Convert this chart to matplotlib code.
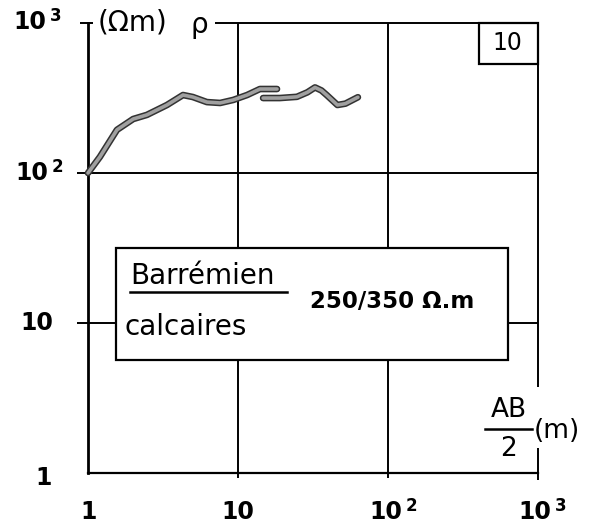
import matplotlib.pyplot as plt
from matplotlib.patches import Rectangle

# sondage electrique : resistivite apparente en fonction de AB/2
ab2_a = [1.0, 1.2, 1.56, 2.0, 2.47, 3.36, 4.3, 5.0, 6.2, 7.6, 9.3, 11.5, 14.0, 18.2]
rho_a = [100, 128, 194, 229, 244, 284, 331, 321, 297, 293, 307, 331, 363, 363]
ab2_b = [14.7, 19.0, 24.7, 29.0, 32.6, 36.0, 39.0, 46.0, 52.0, 63.0]
rho_b = [316, 316, 322, 345, 372, 355, 331, 284, 290, 320]

dec_base = ['1', '10', '10', '10']
dec_exp = ['', '', '2', '3']
numero = '10'
formation = 'Barrémien'
lithologie = 'calcaires'
resistivite = '250/350 Ω.m'

W, H = 593, 528
fig = plt.figure(figsize=(W / 100, H / 100), dpi=100)
ax = fig.add_axes([88 / W, 1 - 473 / H, 450 / W, 450 / H])
ax.set_xscale('log')
ax.set_yscale('log')
ax.set_xlim(1, 1000)
ax.set_ylim(1, 1000)
ax.set_axis_off()

def px(x, y):
    return x / W, 1 - y / H

k = dict(color='black', lw=1.4, solid_capstyle='butt')
# cadre
ax.plot([1, 1], [1, 1000], color='black', lw=2.0, clip_on=False)
ax.plot([1, 1000], [1, 1], color='black', lw=1.6, clip_on=False)
ax.plot([7.0, 1000], [1000, 1000], clip_on=False, **k)
ax.plot([1000, 1000], [1000, 3.74], clip_on=False, **k)
ax.plot([1000, 1000], [1.47, 0.9], clip_on=False, **k)
ax.plot([0.88, 1.08], [1000, 1000], clip_on=False, **k)
for v in [10, 100]:
    ax.plot([0.85, 1], [v, v], clip_on=False, **k)
    ax.plot([v, v], [0.92, 1], clip_on=False, **k)

# grille
for v in [10, 100]:
    ax.plot([1, 1000], [v, v], **k, zorder=1)
    ax.plot([v, v], [1, 1000], **k, zorder=1)

# courbe
for x, y in [(ab2_a, rho_a), (ab2_b, rho_b)]:
    ax.plot(x, y, color='#333333', lw=4.8, solid_capstyle='round', zorder=3, clip_on=False)
    ax.plot(x, y, color='#a0a0a0', lw=2.6, solid_capstyle='round', zorder=4, clip_on=False)

# cartouche
ax.add_patch(Rectangle((1.54, 5.67), 631 - 1.54, 31.6 - 5.67, facecolor='white',
                       edgecolor='black', lw=1.6, zorder=5))
fig.text(*px(130, 276), formation, fontsize=20, va='center', ha='left')
fig.add_artist(plt.Line2D([130 / W, 287 / W], [1 - 292 / H] * 2, color='black', lw=1.8))
fig.text(*px(124, 327), lithologie, fontsize=20, va='center', ha='left')
fig.text(*px(392, 302), resistivite, fontsize=16.5, fontweight='bold', va='center', ha='center')

# numero du sondage
x0 = 10 ** ((479 - 88) / 150)
y0 = 10 ** ((473 - 64) / 150)
ax.add_patch(Rectangle((x0, y0), 1000 - x0, 1000 - y0, facecolor='white',
                       edgecolor='black', lw=1.6, zorder=5, clip_on=False))
fig.text(*px(507, 43), numero, fontsize=17, va='center', ha='center')

# graduations
def graduation(base, exp, x, y):
    fig.text(*px(x, y), base, fontsize=17, fontweight='bold', va='center', ha='center')
    if exp:
        fig.text(*px(x + 20, y - 6), exp, fontsize=12, fontweight='bold', va='center', ha='left')

ty = [478, 323, 173, 22]
tx = [44, 37, 32, 30]
for b, e, x, y in zip(dec_base, dec_exp, tx, ty):
    graduation(b, e, x, y)
bx = [89, 238, 386, 535]
for b, e, x in zip(dec_base, dec_exp, bx):
    graduation(b, e, x, 512)

# titres des axes
fig.text(*px(132, 22), '(Ωm)', fontsize=20, va='center', ha='center')
fig.text(*px(199, 25), 'ρ', fontsize=20, va='center', ha='center')
fig.text(*px(509, 410), 'AB', fontsize=19, va='center', ha='center')
fig.add_artist(plt.Line2D([485 / W, 532 / W], [1 - 429 / H] * 2, color='black', lw=1.8))
fig.text(*px(508, 449), '2', fontsize=19, va='center', ha='center')
fig.text(*px(557, 431), '(m)', fontsize=19, va='center', ha='center')

fig.savefig('out.png', dpi=100, facecolor='white')
